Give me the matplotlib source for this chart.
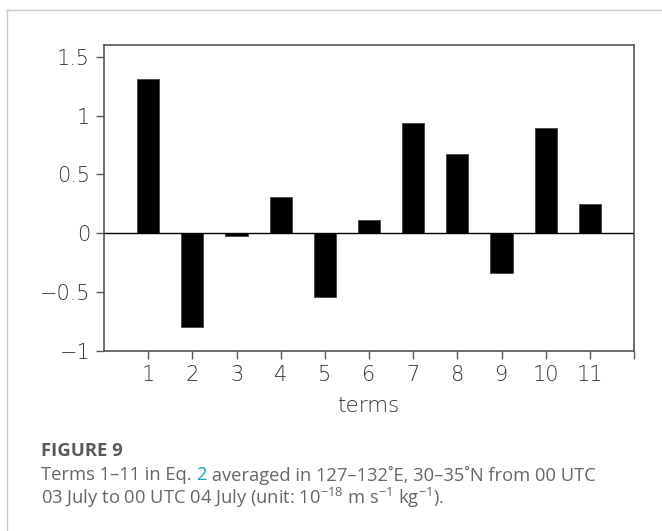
import matplotlib
matplotlib.use("Agg")
import matplotlib.pyplot as plt
from matplotlib.lines import Line2D

# values (unit: 1e-18 m s-1 kg-1)
terms = [1, 2, 3, 4, 5, 6, 7, 8, 9, 10, 11]
values = [1.31, -0.80, -0.02, 0.31, -0.545, 0.117, 0.935, 0.67, -0.335, 0.895, 0.25]
yticks = [-1, -0.5, 0, 0.5, 1, 1.5]
ytick_labels = ["\u22121", "\u22120.5", "0", "0.5", "1", "1.5"]

plt.rcParams['mathtext.fontset'] = 'custom'
plt.rcParams['mathtext.rm'] = 'Open Sans'

fig = plt.figure(figsize=(6.62, 5.31), dpi=100)

# card border (left and top)
fig.add_artist(Line2D([7/662, 7/662], [0, 1 - 10/531], color='#c8c8c8', lw=1.0))
fig.add_artist(Line2D([7/662, 1], [1 - 10/531, 1 - 10/531], color='#c8c8c8', lw=1.0))

ax = fig.add_axes([104/662, 1 - 351/531, (634 - 104)/662, (351 - 45)/531])
ax.bar(terms, values, width=0.5, color='black', edgecolor='#444444', linewidth=0.6)
ax.axhline(0, color='black', lw=1.0)

ax.set_xlim(0, 12)
ax.set_ylim(-1, 1.6)
ax.set_xticks(terms + [12])
ax.set_xticklabels([str(t) for t in terms] + [""])
ax.set_yticks(yticks)
ax.set_yticklabels(ytick_labels)

for s in ax.spines.values():
    s.set_color('#555555')
    s.set_linewidth(1.2)
ax.tick_params(axis='both', direction='out', length=6, width=1.0, color='#555555',
               labelsize=15, labelcolor='#333333', pad=4)
for lab in ax.get_xticklabels() + ax.get_yticklabels():
    lab.set_fontfamily('DejaVu Sans')
    lab.set_fontweight('light')
ax.set_xlabel("terms", fontsize=15.5, color='#333333', fontweight='light', labelpad=8)

# caption
x0 = 41/662
fig.text(x0, 1 - 451/531, "FIGURE 9", fontsize=13.3, fontweight='bold',
         color='#595959', family='Open Sans', va='center')

cap_kw = dict(fontsize=13.2, color='#666666', family='Open Sans', va='center')
y1 = 1 - 475/531
t1 = fig.text(x0, y1, "Terms 1\u201311 in Eq. ", **cap_kw)
fig.canvas.draw()
r = fig.canvas.get_renderer()
bb = t1.get_window_extent(r)
t2 = fig.text(bb.x1 / fig.bbox.width, y1, "2", fontsize=13.2, color='#1aa3b8',
              family='Open Sans', va='center')
bb2 = t2.get_window_extent(r)
fig.text(bb2.x1 / fig.bbox.width, y1,
         " averaged in 127\u2013132\u02daE, 30\u201335\u02daN from 00 UTC", **cap_kw)
fig.text(x0, 1 - 498/531,
         r"03 July to 00 UTC 04 July (unit: 10$^{\mathrm{-18}}$ m s$^{\mathrm{-1}}$ kg$^{\mathrm{-1}}$).",
         **cap_kw)

fig.savefig("out.png", dpi=100)
